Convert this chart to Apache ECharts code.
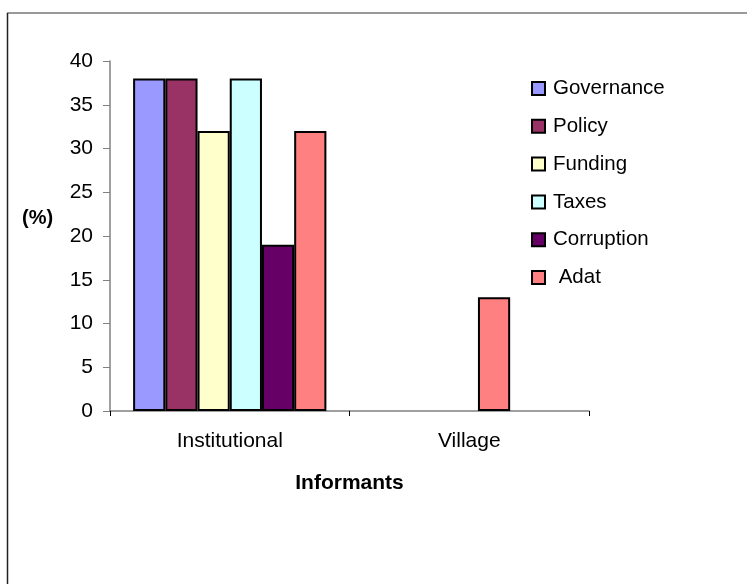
<!DOCTYPE html>
<html><head><meta charset="utf-8">
<script src="https://cdn.jsdelivr.net/npm/echarts@6/dist/echarts.min.js"></script>
<style>html,body{margin:0;padding:0;background:#fff}#c{width:747px;height:584px}</style>
</head><body><div id="c"></div>
<script>
const categories = ['Institutional', 'Village'];
const seriesNames = ['Governance', 'Policy', 'Funding', 'Taxes', 'Corruption', ' Adat'];
const governance = [38, '-'];
const policy = [38, '-'];
const funding = [32, '-'];
const taxes = [38, '-'];
const corruption = [19, '-'];
const adatInstitutional = [32, '-'];
const adatVillage = ['-', 13];
const yTicks = [0, 5, 10, 15, 20, 25, 30, 35, 40];
const colors = ['#9999FF', '#993366', '#FFFFCC', '#CCFFFF', '#660066', '#FF8080'];

const chart = echarts.init(document.getElementById('c'));
const font = 'Liberation Sans, Arial, sans-serif';
const mainData = [governance, policy, funding, taxes, corruption, adatInstitutional];
const bw = '13.45%';
const series = mainData.map((d, i) => ({
  name: seriesNames[i], type: 'bar', data: d, xAxisIndex: 0,
  barWidth: bw, barGap: '0%',
  itemStyle: { color: colors[i], borderColor: '#000', borderWidth: 2 }
}));
series.push({ name: '_pad', type: 'bar', data: ['-', '-'], xAxisIndex: 1, barWidth: bw, barGap: '54%',
  itemStyle: { color: 'transparent' } });
series.push({ name: seriesNames[5], type: 'bar', data: adatVillage, xAxisIndex: 1, barWidth: bw, barGap: '54%',
  itemStyle: { color: colors[5], borderColor: '#000', borderWidth: 2 } });

chart.setOption({
  animation: false,
  textStyle: { fontFamily: font },
  grid: { left: 110, top: 61, width: 479, height: 350 },
  legend: {
    orient: 'vertical', left: 526, top: 73,
    data: seriesNames,
    itemWidth: 13, itemHeight: 13, itemGap: 16.8,
    textStyle: { fontFamily: font, fontSize: 20.5, color: '#000', lineHeight: 21, padding: [0, 0, 0, 3] },
    icon: 'rect'
  },
  xAxis: [{
    type: 'category', data: categories,
    axisLine: { lineStyle: { color: '#808080', width: 1.5 } },
    axisTick: { show: true, length: 5, lineStyle: { color: '#000' } },
    axisLabel: { fontSize: 21, color: '#000', margin: 20, fontFamily: font },
    name: 'Informants', nameLocation: 'middle', nameGap: 62,
    nameTextStyle: { fontSize: 21, fontWeight: 'bold', color: '#000', fontFamily: font }
  }, {
    type: 'category', data: categories, show: false
  }],
  yAxis: {
    type: 'value', min: yTicks[0], max: yTicks[yTicks.length - 1], interval: 5,
    axisLine: { show: true, lineStyle: { color: '#808080', width: 1.5 } },
    axisTick: { show: true, length: 7, lineStyle: { color: '#808080' } },
    splitLine: { show: false },
    axisLabel: { fontSize: 21, color: '#000', margin: 17, fontFamily: font }
  },
  graphic: [
    { type: 'line', shape: { x1: 7, y1: 13, x2: 747, y2: 13 }, style: { stroke: '#777', lineWidth: 1.5 } },
    { type: 'line', shape: { x1: 7.5, y1: 13, x2: 7.5, y2: 584 }, style: { stroke: '#222', lineWidth: 1.5 } },
    { type: 'text', x: 22, y: 218, style: { text: '(%)', font: 'bold 20px ' + font, fill: '#000', verticalAlign: 'middle' } }
  ],
  series: series
});
</script></body></html>
